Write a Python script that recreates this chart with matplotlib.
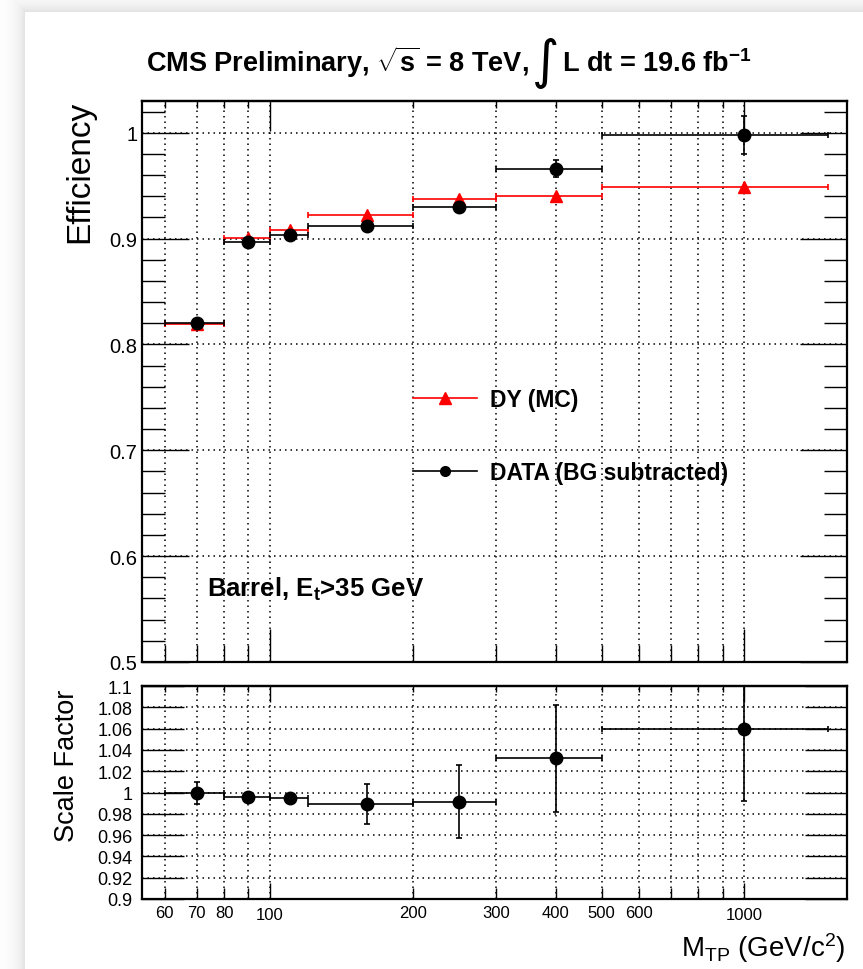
import numpy as np
import matplotlib
matplotlib.use("Agg")
import matplotlib.pyplot as plt
from matplotlib.lines import Line2D
from matplotlib.ticker import FixedLocator, FuncFormatter, NullFormatter

plt.rcParams['font.family'] = ['Liberation Sans', 'DejaVu Sans']
plt.rcParams['mathtext.fontset'] = 'custom'
plt.rcParams['mathtext.rm'] = 'Liberation Sans'
plt.rcParams['mathtext.it'] = 'Liberation Sans'
plt.rcParams['mathtext.bf'] = 'Liberation Sans:bold'

# tag-and-probe mass bins (GeV/c^2)
bin_lo = [60, 80, 100, 120, 200, 300, 500]
bin_hi = [80, 100, 120, 200, 300, 500, 1500]
m_tp = [70, 90, 110, 160, 250, 400, 1000]

eff_mc = [0.8195, 0.901, 0.908, 0.922, 0.937, 0.940, 0.949]
eff_data = [0.820, 0.8965, 0.9035, 0.912, 0.930, 0.966, 0.998]
eff_data_err = [0.002, 0.002, 0.002, 0.002, 0.003, 0.008, 0.018]

scale_factor = [0.9995, 0.996, 0.995, 0.989, 0.9915, 1.032, 1.060]
scale_factor_err = [0.010, 0.004, 0.004, 0.019, 0.034, 0.050, 0.068]

x_labels = [60, 70, 80, 100, 200, 300, 400, 500, 600, 1000]
x_minor = [60, 70, 80, 90, 200, 300, 400, 500, 600, 700, 800, 900]
x_major = [100, 1000]

W, H = 863, 970
fig = plt.figure(figsize=(W / 100, H / 100), dpi=100)

# page with a soft shadow on the top/left
bg = fig.add_axes([0, 0, 1, 1], zorder=-10)
yy, xx = np.mgrid[0:H, 0:W]
d = np.maximum(25 - xx, 13 - yy)
shade = np.where(d > 0, 1 - 0.12 * np.exp(-d / 9.0), 1.0)
bg.imshow(shade, cmap='gray', vmin=0, vmax=1, aspect='auto', interpolation='bilinear')
bg.axis('off')

ax1 = fig.add_axes([142 / W, 1 - 663 / H, 705 / W, 561 / H])
ax2 = fig.add_axes([142 / W, 1 - 900 / H, 705 / W, 213 / H])

xerr = [np.subtract(m_tp, bin_lo), np.subtract(bin_hi, m_tp)]
dots = (0, (1, 2.6))


def xlabel_fmt(v, pos):
    return '%d' % round(v) if round(v) in x_labels else ''


def setup_x(ax, maj_len, min_len, top_maj, top_min, labels):
    ax.set_xscale('log')
    ax.set_xlim(53.7, 1646)
    ax.xaxis.set_major_locator(FixedLocator(x_major))
    ax.xaxis.set_minor_locator(FixedLocator(x_minor))
    if labels:
        ax.xaxis.set_major_formatter(FuncFormatter(xlabel_fmt))
        ax.xaxis.set_minor_formatter(FuncFormatter(xlabel_fmt))
    else:
        ax.xaxis.set_major_formatter(NullFormatter())
        ax.xaxis.set_minor_formatter(NullFormatter())
    ax.tick_params(axis='x', which='major', direction='in', length=maj_len, width=1, labelsize=12, pad=5.5)
    ax.tick_params(axis='x', which='minor', direction='in', length=min_len, width=1, labelsize=12, pad=4)
    top = ax.secondary_xaxis('top')
    top.xaxis.set_major_locator(FixedLocator(x_major))
    top.xaxis.set_minor_locator(FixedLocator(x_minor))
    top.xaxis.set_major_formatter(NullFormatter())
    top.xaxis.set_minor_formatter(NullFormatter())
    top.tick_params(which='major', direction='in', length=top_maj, width=1)
    top.tick_params(which='minor', direction='in', length=top_min, width=1)
    top.spines['top'].set_linewidth(1.6)
    for s in ax.spines.values():
        s.set_linewidth(1.6)
    ax.set_axisbelow(True)
    ax.grid(axis='x', which='both', color='black', linestyle=dots, linewidth=1.1)


# efficiency panel
setup_x(ax1, 24, 12, 21.5, 5, False)
ax1.set_ylim(0.5, 1.03)
ax1.yaxis.set_major_locator(FixedLocator([0.5, 0.6, 0.7, 0.8, 0.9, 1.0]))
ax1.yaxis.set_minor_locator(FixedLocator(np.round(np.arange(0.52, 1.03, 0.02), 2)))
ax1.yaxis.set_major_formatter(FuncFormatter(lambda v, p: '%g' % round(v, 2)))
ax1.tick_params(axis='y', which='major', direction='in', length=34, width=1,
                left=True, right=True, labelsize=14.5, pad=3.5)
ax1.tick_params(axis='y', which='minor', direction='in', length=16.5, width=1, left=True, right=True)
ax1.grid(axis='y', which='major', color='black', linestyle=dots, linewidth=1.1)

ax1.errorbar(m_tp, eff_mc, xerr=xerr, fmt='^', color='red', ms=9, lw=1.2,
             capsize=2, capthick=1.2)
ax1.errorbar(m_tp, eff_data, xerr=xerr, yerr=eff_data_err, fmt='o', color='black',
             ms=9, lw=1.2, capsize=2.5, capthick=1.2)

handles = [Line2D([], [], color='red', marker='^', ms=9, lw=1.2),
           Line2D([], [], color='black', marker='o', ms=7, lw=1.2)]
ax1.legend(handles, ['DY (MC)', 'DATA (BG subtracted)'], loc='upper left',
           bbox_to_anchor=(0.3844, 0.489), frameon=False,
           prop={'weight': 'bold', 'size': 16.5}, handlelength=2.8,
           handletextpad=0.55, labelspacing=2.2, borderpad=0, borderaxespad=0)

fig.text(207 / W, 1 - 597 / H, r'Barrel, E$_{\mathbf{t}}$>35 GeV', size=18.5,
         weight='bold', va='baseline', ha='left')

# scale factor panel
setup_x(ax2, 11.5, 8, 11.5, 4.3, True)
ax2.set_ylim(0.9, 1.1)
sf_ticks = np.round(np.arange(0.9, 1.1001, 0.02), 2)
ax2.yaxis.set_major_locator(FixedLocator(sf_ticks))
ax2.yaxis.set_major_formatter(FuncFormatter(lambda v, p: '%g' % round(v, 2)))
ax2.tick_params(axis='y', which='major', direction='in', length=30, width=1,
                left=True, right=True, labelsize=13, pad=7)
ax2.grid(axis='y', which='major', color='black', linestyle=dots, linewidth=1.1)

ax2.errorbar(m_tp, scale_factor, xerr=xerr, yerr=scale_factor_err, fmt='o',
             color='black', ms=9, lw=1.2, capsize=2.5, capthick=1.2)

# axis titles
fig.text(80 / W, 1 - 101 / H, 'Efficiency', rotation=90, size=24, ha='center', va='top')
fig.text(67 / W, 1 - 690 / H, 'Scale Factor', rotation=90, size=19.5, ha='center', va='top')
fig.text(845 / W, 1 - 948 / H, r'M$_{TP}$ (GeV/c$^{2}$)', size=20, ha='right', va='center')

# header line, laid out piece by piece around a tall integral sign
renderer = fig.canvas.get_renderer()
base_y = 1 - 72 / H
t1 = fig.text(0, base_y, r'CMS Preliminary, $\sqrt{\mathbf{s}}$ = 8 TeV,', size=19.5,
              weight='bold', va='baseline')
t2 = fig.text(0, 1 - 63 / H, '\u222b', size=38, family='DejaVu Sans', va='center')
t3 = fig.text(0, base_y, r'L dt = 19.6 fb$^{\mathbf{-1}}$', size=19.5, weight='bold',
              va='baseline')
pieces = [t1, t2, t3]
widths = [t.get_window_extent(renderer).width for t in pieces]
gap = 3
x = 449 - (sum(widths) + gap * 2) / 2
for t, w in zip(pieces, widths):
    t.set_x(x / W)
    x += w + gap

fig.savefig('out.png', dpi=100)
